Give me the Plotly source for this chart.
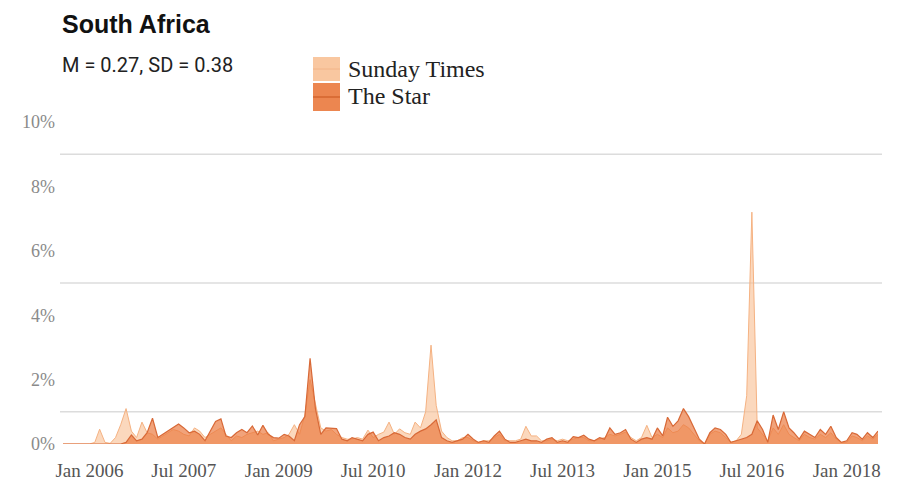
import plotly.graph_objects as go
import pandas as pd

# ---- data (monthly, % of coverage) ----
dates = pd.date_range("2005-08-01", periods=156, freq="MS")

sunday_times = [
    0, 0, 0, 0, 0, 0, 0.05, 0.46, 0.05, 0.02,
    0.2, 0.6, 1.1, 0.4, 0.2, 0.68, 0.35, 0.3, 0.15, 0.25,
    0.35, 0.45, 0.4, 0.3, 0.25, 0.5, 0.4, 0.2, 0.3, 0.4,
    0.5, 0.3, 0.1, 0.25, 0.2, 0.3, 0.35, 0.4, 0.3, 0.35,
    0.1, 0.15, 0.2, 0.3, 0.6, 0.3, 0.9, 2.0, 1.2, 0.5,
    0.4, 0.45, 0.3, 0.2, 0.15, 0.15, 0.2, 0.15, 0.43, 0.2,
    0.3, 0.37, 0.68, 0.3, 0.47, 0.35, 0.3, 0.68, 0.5, 1.0,
    3.07, 1.2, 0.4, 0.2, 0.1, 0.1, 0.2, 0.2, 0.1, 0.05,
    0.1, 0.1, 0.2, 0.3, 0.1, 0.1, 0.1, 0.15, 0.55, 0.25,
    0.25, 0.1, 0.1, 0.15, 0.1, 0.15, 0.1, 0.15, 0.2, 0.2,
    0.1, 0.1, 0.15, 0.2, 0.3, 0.25, 0.3, 0.37, 0.2, 0.1,
    0.2, 0.58, 0.2, 0.3, 0.2, 0.5, 0.35, 0.4, 0.6, 0.5,
    0.3, 0.1, 0.0, 0.3, 0.4, 0.35, 0.2, 0.05, 0.1, 0.3,
    1.5, 7.2, 0.5, 0.3, 0.1, 0.5, 0.3, 0.6, 0.3, 0.2,
    0.1, 0.3, 0.2, 0.15, 0.3, 0.2, 0.35, 0.15, 0.05, 0.05,
    0.25, 0.2, 0.1, 0.25, 0.15, 0.3,
]

the_star = [
    0, 0, 0, 0, 0, 0, 0, 0, 0, 0,
    0, 0, 0.05, 0.28, 0.1, 0.15, 0.35, 0.8, 0.2, 0.3,
    0.4, 0.5, 0.62, 0.5, 0.35, 0.4, 0.3, 0.1, 0.4, 0.7,
    0.78, 0.25, 0.2, 0.35, 0.45, 0.35, 0.56, 0.28, 0.58, 0.3,
    0.2, 0.18, 0.3, 0.25, 0.1, 0.6, 0.85, 2.66, 1.1, 0.3,
    0.5, 0.5, 0.48, 0.15, 0.1, 0.2, 0.15, 0.1, 0.3, 0.37,
    0.1, 0.2, 0.25, 0.35, 0.3, 0.2, 0.15, 0.3, 0.4, 0.47,
    0.6, 0.75, 0.2, 0.1, 0.05, 0.1, 0.15, 0.3, 0.15, 0.05,
    0.1, 0.05, 0.25, 0.4, 0.15, 0.05, 0.05, 0.1, 0.15, 0.1,
    0.1, 0.05, 0.15, 0.2, 0.05, 0.1, 0.05, 0.23, 0.2, 0.27,
    0.15, 0.1, 0.2, 0.15, 0.5, 0.3, 0.35, 0.45, 0.15, 0.05,
    0.15, 0.2, 0.15, 0.5, 0.25, 0.83, 0.55, 0.72, 1.1, 0.85,
    0.5, 0.15, 0.0, 0.35, 0.5, 0.45, 0.3, 0.05, 0.1, 0.15,
    0.2, 0.3, 0.72, 0.45, 0.05, 0.9, 0.45, 1.0, 0.5, 0.35,
    0.15, 0.4, 0.3, 0.2, 0.45, 0.3, 0.55, 0.2, 0.05, 0.1,
    0.35, 0.3, 0.15, 0.35, 0.2, 0.4,
]

y_tick_vals = [0, 2, 4, 6, 8, 10]
y_tick_text = ["0%", "2%", "4%", "6%", "8%", "10%"]
grid_vals = [1, 5, 9]
x_tick_vals = pd.date_range("2006-01-01", periods=9, freq="18MS")

title_text = "South Africa"
subtitle_text = "M = 0.27, SD = 0.38"
series_names = ["Sunday Times", "The Star"]

# ---- layout geometry (pixels, in screen coords; page body has an 8px margin) ----
OFF = 8
W, H = 897 - OFF, 483 - OFF
L, R, T, B = 63 - OFF, 878 - OFF, 122 - OFF, 444 - OFF  # plot area edges in figure coords

def px(x):  # screen x -> paper
    return (x - OFF - L) / (R - L)

def py(y):  # screen y -> paper
    return (B - (y - OFF)) / (B - T)

ST_FILL = "rgba(249,190,145,0.6)"
ST_LINE = "rgb(245,178,130)"
STAR_FILL = "rgba(234,120,60,0.68)"
STAR_LINE = "rgb(216,105,55)"

fig = go.Figure()
fig.add_trace(go.Scatter(
    x=dates, y=sunday_times, name=series_names[0], mode="lines",
    fill="tozeroy", fillcolor=ST_FILL, line=dict(color=ST_LINE, width=1),
    showlegend=False,
))
fig.add_trace(go.Scatter(
    x=dates, y=the_star, name=series_names[1], mode="lines",
    fill="tozeroy", fillcolor=STAR_FILL, line=dict(color=STAR_LINE, width=1.2),
    showlegend=False,
))

shapes = []
for g in grid_vals:
    shapes.append(dict(type="line", xref="paper", yref="y", x0=px(60), x1=px(882),
                       y0=g, y1=g, line=dict(color="#dcdcdc", width=1.5), layer="below"))

# legend patches
shapes.append(dict(type="rect", xref="paper", yref="paper", x0=px(313), x1=px(340),
                   y0=py(81), y1=py(57), fillcolor="#F9C7A0", line=dict(width=0)))
shapes.append(dict(type="line", xref="paper", yref="paper", x0=px(313), x1=px(340),
                   y0=py(69), y1=py(69), line=dict(color="#F2B488", width=1)))
shapes.append(dict(type="rect", xref="paper", yref="paper", x0=px(313), x1=px(340),
                   y0=py(111), y1=py(83), fillcolor="#EC8650", line=dict(width=0)))
shapes.append(dict(type="line", xref="paper", yref="paper", x0=px(313), x1=px(340),
                   y0=py(97), y1=py(97), line=dict(color="#D5652E", width=1.5)))

annotations = [
    dict(text="<b>" + title_text + "</b>", xref="paper", yref="paper", x=px(60), y=py(24),
         xanchor="left", yanchor="middle", showarrow=False,
         font=dict(family="Liberation Sans, Arial, sans-serif", size=25, color="#111")),
    dict(text=subtitle_text, xref="paper", yref="paper", x=px(60), y=py(65),
         xanchor="left", yanchor="middle", showarrow=False,
         font=dict(family="Roboto, Liberation Sans, sans-serif", size=20, color="#222")),
    dict(text=series_names[0], xref="paper", yref="paper", x=px(346), y=py(69),
         xanchor="left", yanchor="middle", showarrow=False,
         font=dict(family="Liberation Serif, Times New Roman, serif", size=24, color="#222")),
    dict(text=series_names[1], xref="paper", yref="paper", x=px(346), y=py(96),
         xanchor="left", yanchor="middle", showarrow=False,
         font=dict(family="Liberation Serif, Times New Roman, serif", size=24, color="#222")),
]

fig.update_layout(
    width=W, height=H,
    margin=dict(l=L, r=W - R, t=T, b=H - B, autoexpand=False),
    paper_bgcolor="white", plot_bgcolor="white",
    shapes=shapes, annotations=annotations,
    xaxis=dict(
        range=[dates[0], dates[-1]], tickvals=list(x_tick_vals), tickformat="%b %Y",
        showgrid=False, zeroline=False, showline=False, ticks="",
        ticklabelstandoff=13, automargin=False,
        tickfont=dict(family="Liberation Serif, Times New Roman, serif", size=19, color="#555"),
    ),
    yaxis=dict(
        range=[0, 10], tickvals=y_tick_vals, ticktext=y_tick_text,
        showgrid=False, zeroline=False, showline=False, ticks="",
        ticklabelstandoff=7, automargin=False,
        tickfont=dict(family="Liberation Serif, Times New Roman, serif", size=18, color="#8a8a8a"),
    ),
    showlegend=False,
)

fig.write_html("out.html")
